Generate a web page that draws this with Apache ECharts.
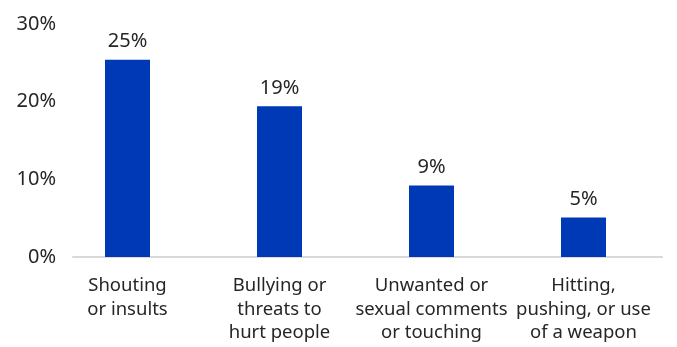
<!DOCTYPE html>
<html><head><meta charset="utf-8">
<script src="https://cdn.jsdelivr.net/npm/echarts@6/dist/echarts.min.js"></script>
<style>html,body{margin:0;padding:0;background:#fff}#c{width:677px;height:347px}</style>
</head><body><div id="c"></div>
<script>
const categories = ["Shouting\nor insults", "Bullying or\nthreats to\nhurt people", "Unwanted or\nsexual comments\nor touching", "Hitting,\npushing, or use\nof a weapon"];
const values = [25.4, 19.4, 9.2, 5.1];
const yTicks = [0, 10, 20, 30];

const chart = echarts.init(document.getElementById('c'), null, {renderer: 'canvas'});
const font = '"Noto Sans", "Open Sans", sans-serif';
const txt = '#262626';
chart.setOption({
  animation: false,
  grid: [
    {left: 51.5, right: 17.5, top: 24, bottom: 90},
    {left: 73, right: 15, top: 24, bottom: 90}
  ],
  xAxis: [{
    type: 'category', data: categories, gridIndex: 0,
    axisLine: {show: false},
    axisTick: {show: false},
    axisLabel: {color: txt, fontFamily: font, fontSize: 18.5, lineHeight: 23.5, margin: 17, interval: 0}
  }, {
    type: 'category', data: [''], gridIndex: 1,
    axisLine: {show: true, lineStyle: {color: '#d9d9d9', width: 2}},
    axisTick: {show: false}, axisLabel: {show: false}
  }],
  yAxis: [{
    type: 'value', gridIndex: 0, min: yTicks[0], max: yTicks[yTicks.length - 1], interval: 10,
    show: false, splitLine: {show: false}
  }, {
    type: 'value', gridIndex: 1, min: yTicks[0], max: yTicks[yTicks.length - 1], interval: 10,
    splitLine: {show: false}, axisLine: {show: false}, axisTick: {show: false},
    axisLabel: {color: txt, fontFamily: font, fontSize: 20, margin: 17, formatter: v => v + '%'}
  }],
  series: [{
    type: 'bar', data: values, barWidth: 45, xAxisIndex: 0, yAxisIndex: 0,
    itemStyle: {color: '#0039b5'},
    label: {show: true, position: 'top', distance: 8, color: txt, fontFamily: font, fontSize: 20,
      formatter: p => Math.round(p.value) + '%'}
  }]
});
</script></body></html>
